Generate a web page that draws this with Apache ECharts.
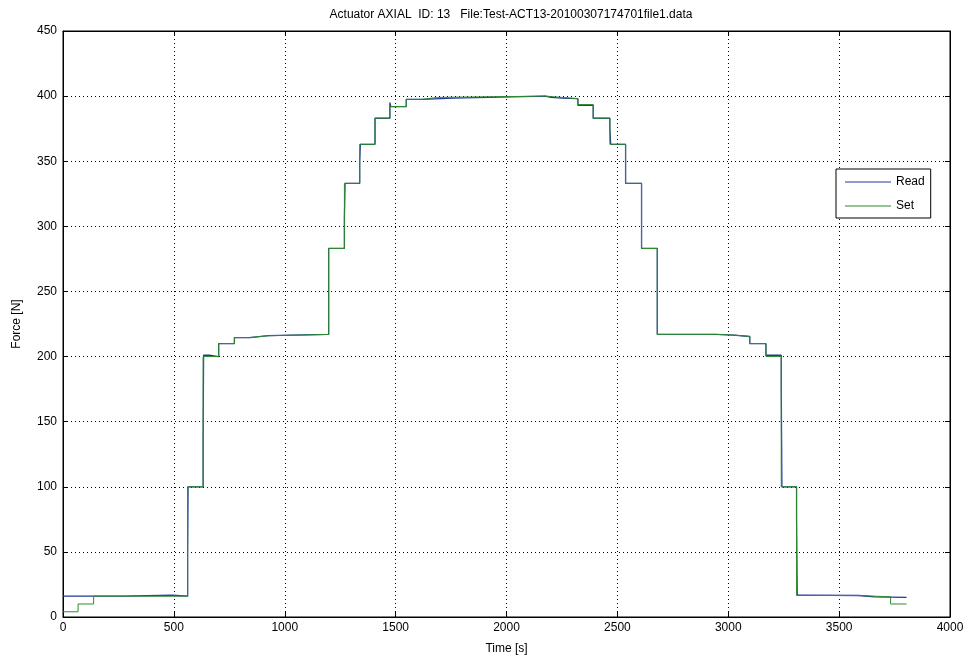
<!DOCTYPE html>
<html>
<head>
<meta charset="utf-8">
<script src="https://cdn.jsdelivr.net/npm/echarts@6/dist/echarts.min.js"></script>
<style>
html,body{margin:0;padding:0;background:#fff;}
#chart{width:969px;height:661px;}
</style>
</head>
<body>
<div id="chart"></div>
<script>
// Set value: time [s] where the setpoint changes, and the new force [N]
var setTime  = [0, 68, 138, 562, 632, 702, 773, 842, 926, 1198, 1269, 1338, 1407, 1474, 1548, 1620, 1690,
                2176, 2251, 2322, 2391, 2466, 2537, 2609, 2680, 2945, 3025, 3097, 3170, 3239, 3308, 3589, 3732, 3804];
var setForce = [4, 10, 16, 100, 200, 210, 214.6, 216, 217, 283, 333, 363, 383, 392, 397.5, 399, 400,
                399, 398, 393.5, 383, 363, 333, 283, 217, 216.5, 215.4, 210, 200, 100, 16.5, 15.5, 10, 10];
// Read value (measured force)
var readTime  = [0, 270, 492, 562, 564, 632, 634, 660, 702, 773, 842, 926, 1198, 1269, 1272, 1338, 1341, 1407,
                 1474, 1478, 1548, 1620, 1760, 2176, 2200, 2251, 2322, 2391, 2466, 2470, 2537, 2609, 2680,
                 2945, 3025, 3097, 3170, 3239, 3242, 3308, 3311, 3335, 3589, 3660, 3804];
var readForce = [16, 16.7, 16, 46, 100, 138, 201, 200, 210, 214.6, 216, 217, 283, 306, 333, 350, 363, 383,
                 395, 392, 397.5, 398.5, 400, 399, 398.5, 398, 393, 383, 375, 363, 333, 283, 217,
                 216.5, 215.4, 210, 201, 178, 100, 77, 16.8, 16.5, 15.5, 15, 15];

var xTicks = [0, 500, 1000, 1500, 2000, 2500, 3000, 3500, 4000];
var yTicks = [0, 50, 100, 150, 200, 250, 300, 350, 400, 450];

function pairs(t, v){
	var out = [];
	for(var i=0;i<t.length;i++){
		out.push([t[i], v[i]]);
	}
	return out;
}

var font = 'Liberation Sans, Arial, sans-serif';
var dots = {color:'#000', width:1, type:[1,3]};
var readColor = '#1f3a9a';
var setColor = '#2f8a2f';

var chart = echarts.init(document.getElementById('chart'), null, {renderer:'canvas'});
var option = {
	backgroundColor:'#fff',
	animation:false,
	title:{
		text:'Actuator AXIAL  ID: 13   File:Test-ACT13-20100307174701file1.data',
		left:506, top:4, textAlign:'center',
		textStyle:{fontFamily:font, fontSize:12, fontWeight:'normal', color:'#000'}
	},
	grid:{left:63, right:19, top:31, bottom:44, show:true, borderColor:'#000', borderWidth:1, backgroundColor:'#fff'},
	legend:{
		orient:'vertical', left:836, top:169,
		data:[{name:'Read', icon:'rect', itemStyle:{color:readColor}},
		      {name:'Set', icon:'rect', itemStyle:{color:setColor}}],
		backgroundColor:'#fff', borderColor:'#000', borderWidth:1,
		padding:[7,6,6,9], itemGap:12, itemWidth:46, itemHeight:1.2,
		textStyle:{fontFamily:font, fontSize:12, color:'#000', lineHeight:12}
	},
	xAxis:[{
		type:'value', min:0, max:4000, interval:500,
		name:'Time [s]', nameLocation:'middle', nameGap:26,
		nameTextStyle:{fontFamily:font, fontSize:12, color:'#000'},
		axisLine:{show:true, onZero:false, lineStyle:{color:'#000'}},
		axisTick:{show:true, inside:true, length:5, lineStyle:{color:'#000'}},
		axisLabel:{fontFamily:font, fontSize:12, color:'#000', margin:5,
			formatter:function(v){ return xTicks.indexOf(v) >= 0 ? String(v) : ''; }},
		splitLine:{show:true, lineStyle:dots}
	},{
		type:'value', min:0, max:4000, interval:500, position:'top',
		axisLine:{show:true, onZero:false, lineStyle:{color:'#000'}},
		axisTick:{show:true, inside:true, length:5, lineStyle:{color:'#000'}},
		axisLabel:{show:false}, splitLine:{show:false}
	}],
	yAxis:[{
		type:'value', min:0, max:450, interval:50,
		name:'Force [N]', nameLocation:'middle', nameGap:40,
		nameTextStyle:{fontFamily:font, fontSize:12, color:'#000'},
		axisLine:{show:true, onZero:false, lineStyle:{color:'#000'}},
		axisTick:{show:true, inside:true, length:5, lineStyle:{color:'#000'}},
		axisLabel:{fontFamily:font, fontSize:12, color:'#000', margin:6,
			formatter:function(v){ return yTicks.indexOf(v) >= 0 ? String(v) : ''; }},
		splitLine:{show:true, lineStyle:dots}
	},{
		type:'value', min:0, max:450, interval:50, position:'right',
		axisLine:{show:true, onZero:false, lineStyle:{color:'#000'}},
		axisTick:{show:true, inside:true, length:5, lineStyle:{color:'#000'}},
		axisLabel:{show:false}, splitLine:{show:false}
	}],
	series:[
		{
			name:'Read', type:'line', step:'end', symbol:'none',
			data:pairs(readTime, readForce),
			lineStyle:{color:readColor, width:1.3},
			itemStyle:{color:readColor}
		},
		{
			name:'Set', type:'line', step:'end', symbol:'none',
			data:pairs(setTime, setForce),
			lineStyle:{color:setColor, width:1},
			itemStyle:{color:setColor}
		}
	]
};
chart.setOption(option);
</script>
</body>
</html>
